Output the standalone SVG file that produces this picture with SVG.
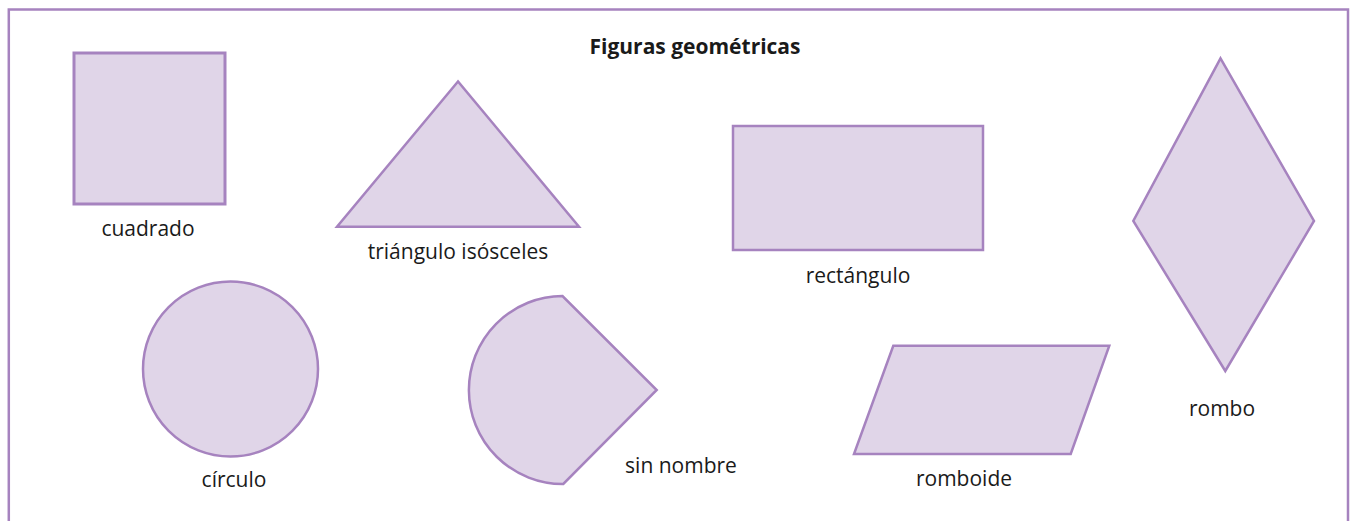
<svg xmlns="http://www.w3.org/2000/svg" width="1350" height="521" viewBox="0 0 1350 521">
<style>
.shape{fill:#e0d5e8;stroke:#a683bf;stroke-width:2.5;stroke-linejoin:miter}
.lbl{font-family:"Open Sans","Noto Sans",sans-serif;font-size:21px;fill:#1a1a1a;text-anchor:middle}
.title{font-family:"Open Sans","Noto Sans",sans-serif;font-size:21px;font-weight:bold;fill:#1a1a1a;text-anchor:middle}
</style>
<rect width="1350" height="521" fill="#ffffff"/>
<path d="M8.8,521 V9.5 H1348 V521" fill="none" stroke="#a683bf" stroke-width="2.5"/>
<text class="title" x="695" y="54">Figuras geométricas</text>
<g id="cuadrado">
<rect class="shape" x="74" y="53" width="151" height="151" style="stroke-width:3"/>
<text class="lbl" x="148" y="236">cuadrado</text>
</g>
<g id="triangulo">
<polygon class="shape" points="458,81.5 337,226.7 579,226.7"/>
<text class="lbl" x="458" y="259">triángulo isósceles</text>
</g>
<g id="rectangulo">
<rect class="shape" x="733" y="126" width="250" height="124"/>
<text class="lbl" x="858" y="283">rectángulo</text>
</g>
<g id="rombo">
<polygon class="shape" points="1220.5,58.3 1314,221 1225.3,371 1133.3,221"/>
<text class="lbl" x="1222" y="416">rombo</text>
</g>
<g id="circulo">
<circle class="shape" cx="230.5" cy="369" r="87.5"/>
<text class="lbl" x="234" y="487">círculo</text>
</g>
<g id="sin-nombre">
<path class="shape" d="M562.5,296 A94,94 0 0 0 563.3,484 L656.7,390 Z"/>
<text class="lbl" x="681" y="473">sin nombre</text>
</g>
<g id="romboide">
<polygon class="shape" points="893.3,345.7 1109.3,345.7 1070.7,454 854,454"/>
<text class="lbl" x="964" y="486">romboide</text>
</g>
<g id="connectors"></g>
</svg>
